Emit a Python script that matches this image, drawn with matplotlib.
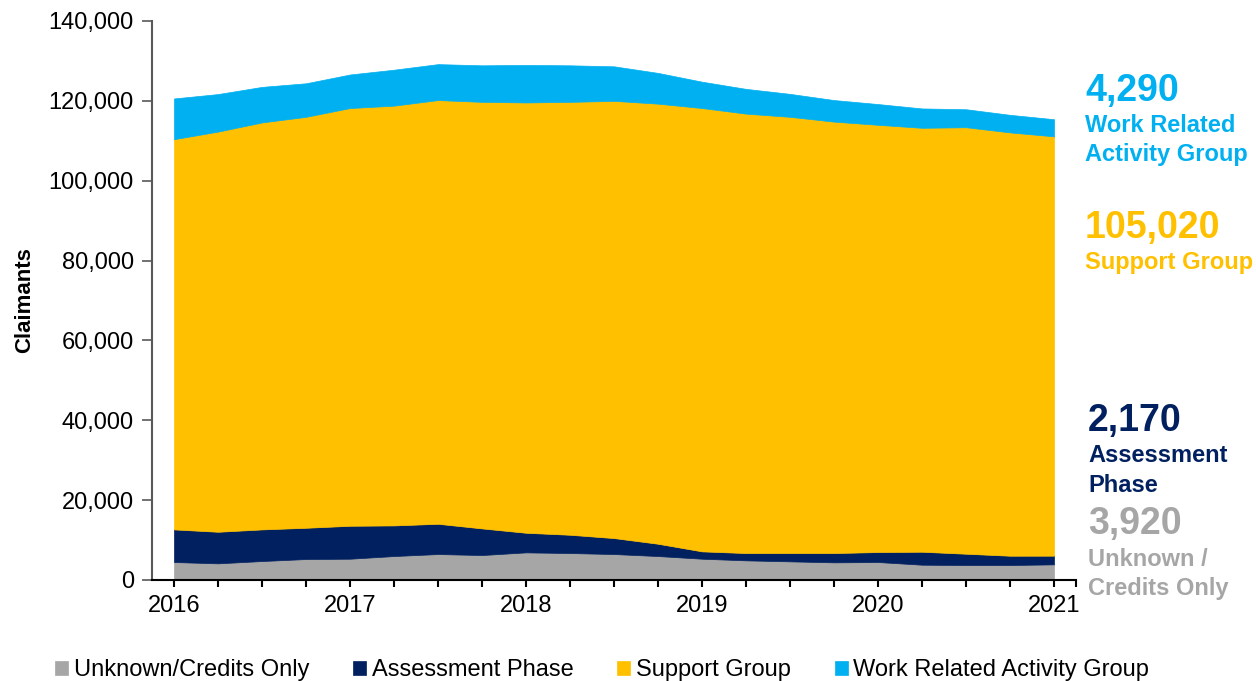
"""Stacked area chart of ESA claimants by phase, quarterly 2016-2021."""

import matplotlib

matplotlib.use("Agg")
import matplotlib.pyplot as plt
from matplotlib.ticker import FuncFormatter

plt.rcParams["font.family"] = ["Liberation Sans", "DejaVu Sans"]

# quarterly points, Feb 2016 .. Feb 2021
years = ["2016", "2017", "2018", "2019", "2020", "2021"]
unknown = [4500, 4170, 4750, 5250, 5330, 6000, 6500, 6250, 6920, 6750, 6500,
           6000, 5330, 4920, 4670, 4420, 4500, 3830, 3750, 3750, 3920]
assessment = [8170, 7910, 7920, 7830, 8250, 7670, 7580, 6670, 4910, 4580, 4000,
              3080, 1840, 1830, 2080, 2330, 2500, 3250, 2830, 2330, 2170]
support = [97730, 100220, 101930, 102920, 104620, 105130, 106120, 106830, 107770,
           108420, 109500, 110220, 111030, 110050, 109250, 108050, 107000, 106170,
           106820, 106020, 105020]
wrag = [10200, 9400, 8900, 8400, 8400, 9000, 9000, 9150, 9400, 9150, 8650,
        7700, 6600, 6200, 5750, 5400, 5200, 4850, 4500, 4400, 4290]

labels = ["Unknown/Credits Only", "Assessment Phase", "Support Group",
          "Work Related Activity Group"]
colors = ["#A6A6A6", "#002060", "#FFC000", "#00B0F0"]

W, H = 1256, 681
fig = plt.figure(figsize=(W / 100, H / 100), dpi=100)
ax = fig.add_axes([152 / W, 1 - 580 / H, 924 / W, 559 / H])

x = list(range(len(unknown)))
polys = ax.stackplot(x, unknown, assessment, support, wrag, colors=colors,
                     labels=labels, linewidth=0)
for p in polys:
    p.set_edgecolor("face")
    p.set_linewidth(0.5)

ax.set_xlim(-0.5, len(x) - 0.5)
ax.set_ylim(0, 140000)
ax.set_yticks(range(0, 140001, 20000))
ax.yaxis.set_major_formatter(FuncFormatter(lambda v, _: f"{int(v):,}"))

xt = x + [len(x) - 0.5]
xl = [years[i // 4] if i % 4 == 0 and i // 4 < len(years) else "" for i in x] + [""]
ax.set_xticks(xt)
ax.set_xticklabels(xl)

for side in ("top", "right"):
    ax.spines[side].set_visible(False)
ax.spines["left"].set_color("#595959")
ax.spines["left"].set_linewidth(1.5)
ax.spines["bottom"].set_color("black")
ax.spines["bottom"].set_linewidth(1.5)
ax.tick_params(axis="y", length=7, width=1.2, color="#595959", labelsize=17, pad=6)
ax.tick_params(axis="x", length=5, width=1.5, labelsize=17, pad=6)
ax.set_ylabel("Claimants", fontsize=16, fontweight="bold", labelpad=10)

# end-of-series callouts on the right
callouts = [
    (wrag[-1], ["Work Related", "Activity Group"], colors[3], 1085, 91),
    (support[-1], ["Support Group"], colors[2], 1085, 228),
    (assessment[-1], ["Assessment", "Phase"], colors[1], 1088, 421),
    (unknown[-1], ["Unknown /", "Credits Only"], colors[0], 1088, 524),
]
for value, names, col, px, py in callouts:
    fig.text(px / W, 1 - py / H, f"{value:,}", color=col, fontsize=27,
             fontweight="bold", va="center", ha="left")
    for k, name in enumerate(names):
        fig.text(px / W, 1 - (py + 35 + 29 * k) / H, name, color=col,
                 fontsize=17, fontweight="bold", va="center", ha="left")

fig.legend(loc="center", bbox_to_anchor=(602 / W, 1 - 670 / H), ncol=4,
           frameon=False, fontsize=17, handlelength=0.55, handleheight=0.55,
           handletextpad=0.25, columnspacing=1.85, borderaxespad=0)

fig.savefig("out.png", dpi=100)
